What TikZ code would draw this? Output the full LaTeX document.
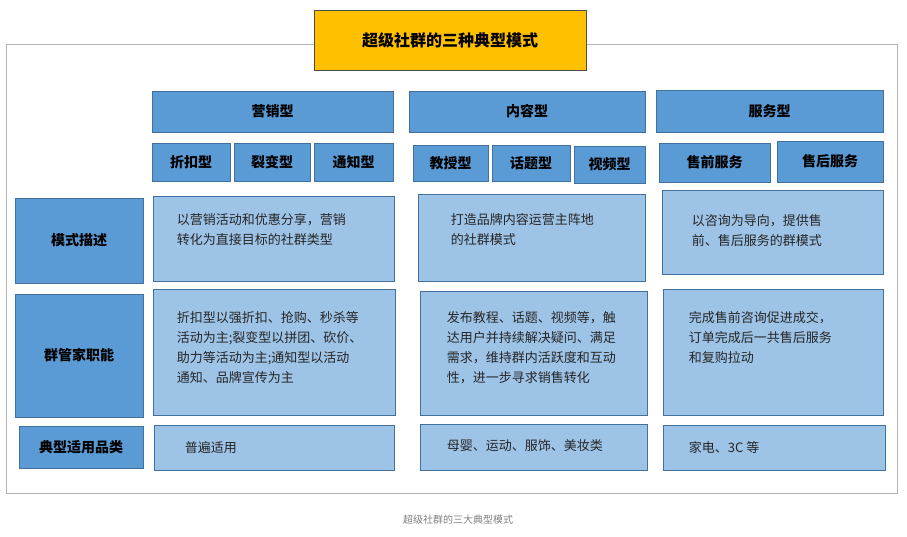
\documentclass[tikz,border=0pt]{standalone}
\usepackage{fontspec}
\setmainfont{Noto Sans CJK SC}
\begin{document}
\begin{tikzpicture}[x=0.75pt,y=-0.75pt,
 hd/.style={draw=hdb,fill=hdf,line width=0.6pt,font=\bfseries\fontsize{10.5}{12}\selectfont,text=black},
 ct/.style={draw=hdb,fill=ctf,line width=0.6pt,font=\fontsize{9.75}{15}\selectfont,align=left,text=black!85}]
\definecolor{hdf}{HTML}{5B9BD5}\definecolor{hdb}{HTML}{41719C}\definecolor{ctf}{HTML}{9DC3E6}
\useasboundingbox (0,0) rectangle (907,536);
\fill[white] (0,0) rectangle (907,536);
\draw[gray!60] (6,44) rectangle (897,493);
\newcommand{\bx}[6]{\node[#1,minimum width=(#4-#2)*0.75pt,minimum height=(#5-#3)*0.75pt,inner sep=0pt] (#6) at ({(#2+#4)/2},{(#3+#5)/2}) {};}
\node[draw=black!70,fill=orange!30!yellow!90!orange,fill={rgb,255:red,255;green,192;blue,0},minimum width=204pt,minimum height=45pt,font=\bfseries\fontsize{12}{14}\selectfont] (t) at (450,40) {超级社群的三种典型模式};
% headers
\foreach \a/\b/\c/\d/\n/\tx in {152/91/393/132/h1/营销型,409/91/645/132/h2/内容型,656/90/883/132/h3/服务型,
152/143/230/181/s1/折扣型,234/143/310/181/s2/裂变型,314/143/393/181/s3/通知型,413/145/488/181/s4/教授型,492/145/570/181/s5/话题型,574/146/645/183/s6/视频型,659/143/770/182/s7/售前服务,777/141/883/182/s8/售后服务,
15/198/143/283/r1/模式描述,15/294/143/417/r2/群管家职能,19/426/143/468/r3/典型适用品类}
{\node[hd,minimum width=(\c-\a)*0.75pt,minimum height=(\d-\b)*0.75pt,inner sep=0pt] (\n) at ({(\a+\c)/2},{(\b+\d)/2}) {\tx};}
% content
\foreach \a/\b/\c/\d/\n in {153/196/394/281/c11,418/194/645/281/c12,662/190/883/274/c13,153/289/395/415/c21,420/291/647/415/c22,663/289/883/415/c23,154/425/394/470/c31,420/424/647/470/c32,663/425/885/470/c33}
{\draw[hdb,fill=ctf,line width=0.6pt] (\a,\b) rectangle (\c,\d); \coordinate (\n) at (\a,\b);}
\node[ct,draw=none,fill=none,anchor=north west] (t11) at (172,209) {以营销活动和优惠分享，营销\\转化为直接目标的社群类型};
\node[ct,draw=none,fill=none,anchor=north west] (t12) at (446,209) {打造品牌内容运营主阵地\\的社群模式};
\node[ct,draw=none,fill=none,anchor=north west] (t13) at (687,210) {以咨询为导向，提供售\\前、售后服务的群模式};
\node[ct,draw=none,fill=none,anchor=north west] (t21) at (172,307) {折扣型以强折扣、抢购、秒杀等\\活动为主;裂变型以拼团、砍价、\\助力等活动为主;通知型以活动\\通知、品牌宣传为主};
\node[ct,draw=none,fill=none,anchor=north west] (t22) at (442,307) {发布教程、话题、视频等，触\\达用户并持续解决疑问、满足\\需求，维持群内活跃度和互动\\性，进一步寻求销售转化};
\node[ct,draw=none,fill=none,anchor=north west] (t23) at (684,307) {完成售前咨询促进成交，\\订单完成后一共售后服务\\和复购拉动};
\node[ct,draw=none,fill=none,anchor=west] (t31) at (180,448) {普遍适用};
\node[ct,draw=none,fill=none,anchor=west] (t32) at (442,446) {母婴、运动、服饰、美妆类};
\node[ct,draw=none,fill=none,anchor=west] (t33) at (684,448) {家电、3C 等};
\node[font=\fontsize{7.5}{9}\selectfont,text=gray] (cap) at (458,520) {超级社群的三大典型模式};
\end{tikzpicture}
\end{document}
